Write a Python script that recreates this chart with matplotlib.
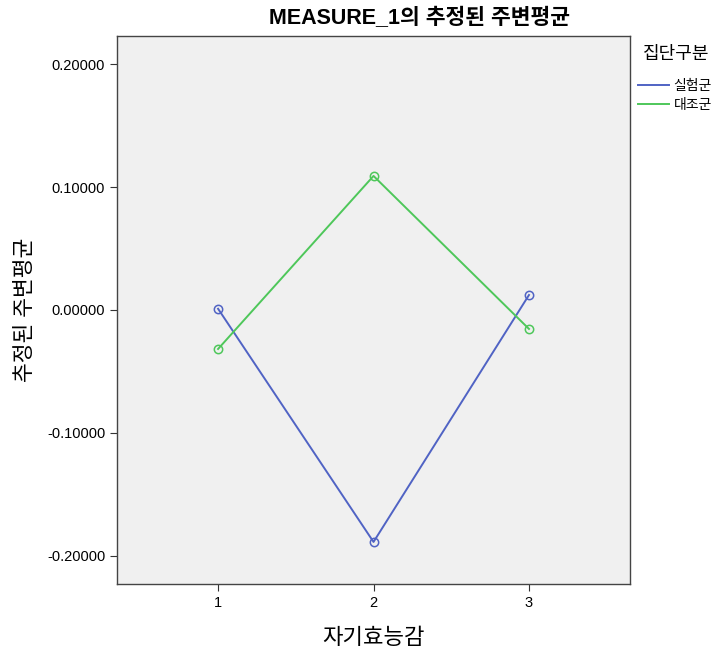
import matplotlib.pyplot as plt
from matplotlib.lines import Line2D

plt.rcParams['font.family'] = ['Liberation Sans', 'Noto Sans CJK KR']

# 자기효능감 levels and estimated marginal means
levels = [1, 2, 3]
exp_means = [0.0010, -0.1886, 0.0122]    # 실험군
ctrl_means = [-0.0317, 0.1090, -0.0154]  # 대조군
group_names = ['실험군', '대조군']
yticks = [-0.2, -0.1, 0.0, 0.1, 0.2]

blue = '#5063c4'
green = '#4ec75a'

fig = plt.figure(figsize=(7.14, 6.52), dpi=100)
ax = fig.add_axes([0.1639, 0.1043, 0.7185, 0.8405])
ax.set_facecolor('#f0f0f0')

ax.plot(levels, exp_means, color=blue, lw=1.4, marker='o', ms=6,
        mfc='none', mec=blue, mew=1.1)
ax.plot(levels, ctrl_means, color=green, lw=1.4, marker='o', ms=6,
        mfc='none', mec=green, mew=1.1)

ax.set_xlim(0.35, 3.65)
ax.set_ylim(-0.2228, 0.2228)
ax.set_xticks(levels)
ax.set_yticks(yticks)
ax.set_yticklabels([f'{v:.5f}' for v in yticks])
ax.tick_params(labelsize=10.5, length=5, color='#333333')
for s in ax.spines.values():
    s.set_color('#444444')
    s.set_linewidth(1.0)

ax.set_xlabel('자기효능감', fontsize=16, labelpad=13)
ax.set_ylabel('추정된 주변평균', fontsize=15.5, labelpad=8)
fig.text(0.588, 0.972, 'MEASURE_1의 추정된 주변평균', ha='center', va='center',
         fontsize=15.5, fontweight='bold')

# legend (lines only, title drawn separately)
fig.text(643 / 714, 1 - 55 / 652, '집단구분', ha='left', va='center', fontsize=13)
handles = [Line2D([], [], color=blue, lw=1.4), Line2D([], [], color=green, lw=1.4)]
fig.legend(handles, group_names, loc='upper left',
           bbox_to_anchor=(638 / 714, 1 - 79 / 652), frameon=False,
           fontsize=10, handlelength=2.2, handletextpad=0.35,
           borderpad=0, borderaxespad=0, labelspacing=0.35)

fig.savefig('out.png', dpi=100)
